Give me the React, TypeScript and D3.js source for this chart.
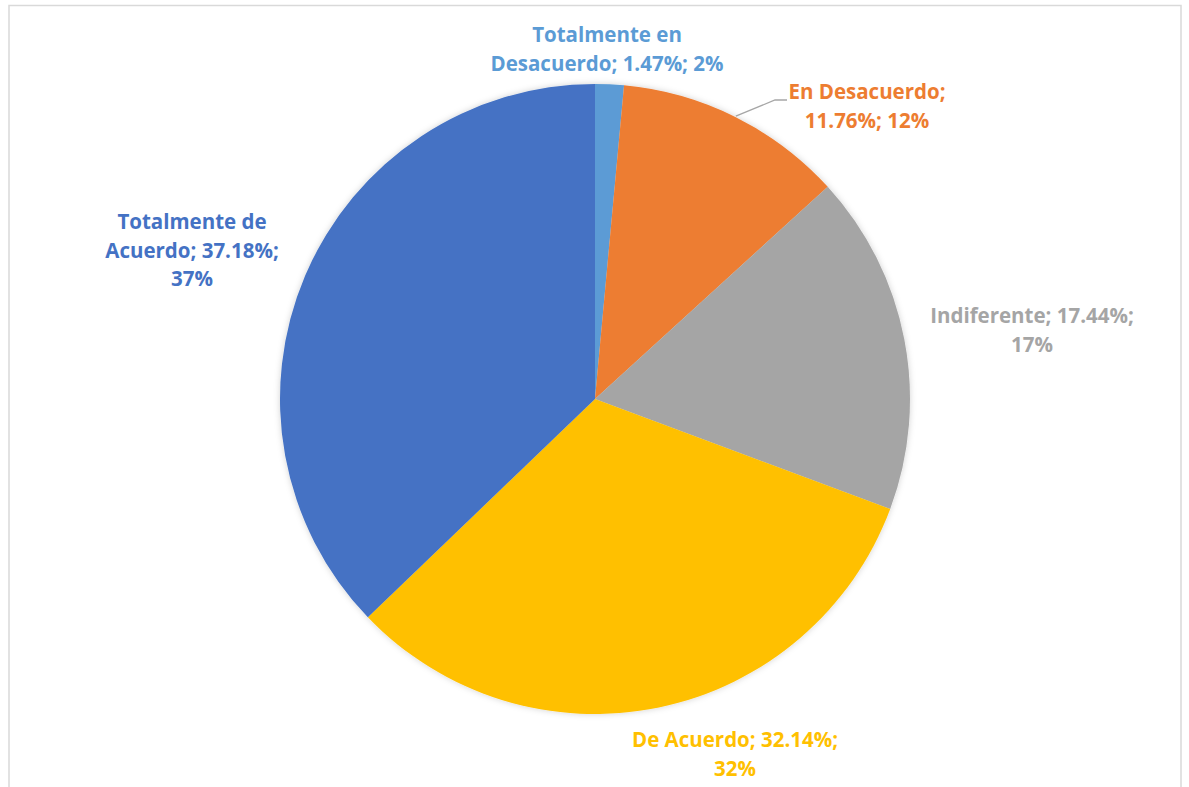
import React, { useEffect, useRef } from "react";
import * as d3 from "d3";

const categories = [
  "Totalmente en Desacuerdo",
  "En Desacuerdo",
  "Indiferente",
  "De Acuerdo",
  "Totalmente de Acuerdo",
];
const percents = [1.47, 11.76, 17.44, 32.14, 37.18];
const rounded = ["2%", "12%", "17%", "32%", "37%"];
const colors = ["#5B9BD5", "#ED7D31", "#A5A5A5", "#FFC000", "#4472C4"];

// label text lines per slice
const labelLines: string[][] = [
  ["Totalmente en", "Desacuerdo; 1.47%; 2%"],
  ["En Desacuerdo;", "11.76%; 12%"],
  ["Indiferente; 17.44%;", "17%"],
  ["De Acuerdo; 32.14%;", "32%"],
  ["Totalmente de", "Acuerdo; 37.18%;", "37%"],
];

// layout: label anchor (center x, first baseline y) relative to page
const labelAnchors: [number, number][] = [
  [607, 42],
  [867, 99],
  [1032, 323],
  [735, 747],
  [192, 229],
];

const W = 1189;
const H = 787;
const CX = 595;
const CY = 399;
const R = 315;
const LINE_H = 28.5;

export default function App() {
  const ref = useRef<SVGSVGElement>(null);

  useEffect(() => {
    const svg = d3.select(ref.current);
    svg.selectAll("*").remove();

    const defs = svg.append("defs");
    const f = defs
      .append("filter")
      .attr("id", "shadow")
      .attr("x", "-10%")
      .attr("y", "-10%")
      .attr("width", "120%")
      .attr("height", "120%");
    f.append("feDropShadow")
      .attr("dx", 0)
      .attr("dy", 0)
      .attr("stdDeviation", 3)
      .attr("flood-color", "#000")
      .attr("flood-opacity", 0.18);

    svg
      .append("rect")
      .attr("width", W)
      .attr("height", H)
      .attr("fill", "#fff");

    // chart border
    svg
      .append("rect")
      .attr("x", 9)
      .attr("y", 5.5)
      .attr("width", 1172)
      .attr("height", 800)
      .attr("fill", "none")
      .attr("stroke", "#D9D9D9")
      .attr("stroke-width", 1.5);

    const data = categories.map((c, i) => ({ c, v: percents[i], i }));
    const pie = d3
      .pie<{ c: string; v: number; i: number }>()
      .value((d) => d.v)
      .sort(null)
      .startAngle(0)
      .endAngle(2 * Math.PI);
    const arcs = pie(data);
    const arc = d3
      .arc<d3.PieArcDatum<{ c: string; v: number; i: number }>>()
      .innerRadius(0)
      .outerRadius(R);

    const g = svg.append("g").attr("transform", `translate(${CX},${CY})`);
    g.append("g")
      .attr("filter", "url(#shadow)")
      .selectAll("path")
      .data(arcs)
      .join("path")
      .attr("d", arc as any)
      .attr("fill", (d) => colors[d.data.i]);

    // leader line for "En Desacuerdo"
    const a1 = arcs[1];
    const mid = (a1.startAngle + a1.endAngle) / 2;
    const px = CX + (R + 1) * Math.sin(mid);
    const py = CY - (R + 1) * Math.cos(mid);
    svg
      .append("polyline")
      .attr("points", `${px},${py} ${775},${100} ${787},${100}`)
      .attr("fill", "none")
      .attr("stroke", "#A6A6A6")
      .attr("stroke-width", 1.3);

    // labels
    labelLines.forEach((lines, i) => {
      const [x, y] = labelAnchors[i];
      const t = svg
        .append("text")
        .attr("text-anchor", "middle")
        .attr("font-family", "'Open Sans', Lato, sans-serif")
        .attr("font-weight", 700)
        .attr("font-size", 20.5)
        .attr("fill", colors[i]);
      lines.forEach((ln, j) => {
        t.append("tspan")
          .attr("x", x)
          .attr("y", y + j * LINE_H)
          .text(ln);
      });
    });
  }, []);

  return (
    <svg
      ref={ref}
      width={W}
      height={H}
      style={{ position: "absolute", left: 0, top: 0, display: "block" }}
    />
  );
}
